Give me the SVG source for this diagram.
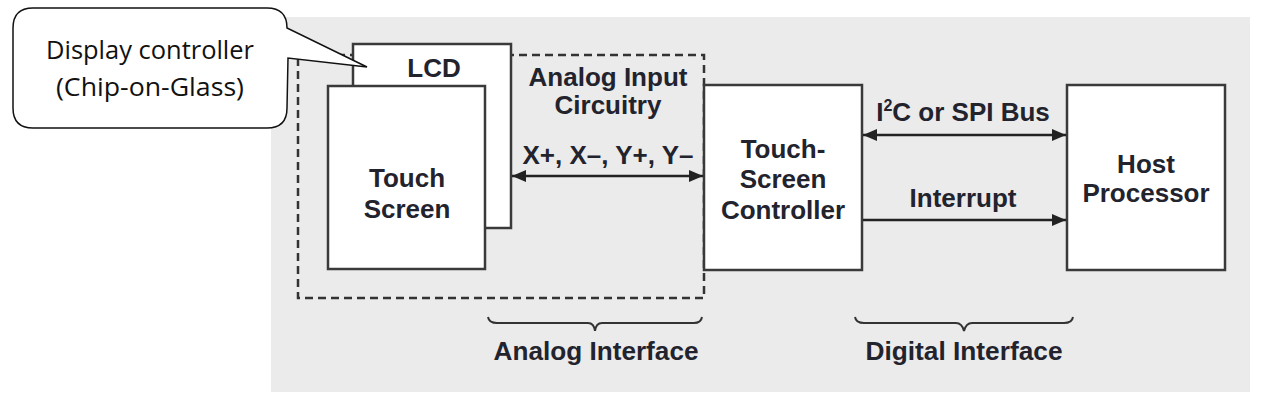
<svg xmlns="http://www.w3.org/2000/svg" width="1267" height="405" viewBox="0 0 1267 405">
<style>
.box{fill:#fff;stroke:#3a3a3a;stroke-width:2.5}
.lbl{font-family:"Liberation Sans",Arial,sans-serif;font-weight:bold;font-size:26px;fill:#23232e;text-anchor:middle}
.ln{stroke:#222;stroke-width:2.5;fill:none}
.brace{stroke:#333;stroke-width:2;fill:none}
.co{font-family:"Open Sans","Liberation Sans",Arial,sans-serif;font-size:25px;fill:#111;text-anchor:middle}
</style>
<defs>
<marker id="ah" viewBox="0 0 14 12" refX="14" refY="6" markerWidth="14" markerHeight="12" markerUnits="userSpaceOnUse" orient="auto-start-reverse">
<path d="M0,0 L14,6 L0,12 Z" fill="#222"/>
</marker>
</defs>
<rect x="271" y="17" width="979" height="375" fill="#ebebeb"/>
<g id="analog-circuitry">
<rect x="298" y="55" width="406" height="243" fill="none" stroke="#333" stroke-width="2.5" stroke-dasharray="8,5"/>
<text class="lbl" x="608" y="86">Analog Input</text>
<text class="lbl" x="608" y="114">Circuitry</text>
</g>
<g id="lcd">
<rect class="box" x="353" y="44" width="158" height="184"/>
<text class="lbl" x="434" y="77">LCD</text>
</g>
<g id="touch-screen">
<rect class="box" x="328" y="86" width="157" height="183"/>
<text class="lbl" x="407" y="187">Touch</text>
<text class="lbl" x="407" y="218">Screen</text>
</g>
<g id="tsc">
<rect class="box" x="704" y="85" width="158" height="185"/>
<text class="lbl" x="783" y="158">Touch-</text>
<text class="lbl" x="783" y="188">Screen</text>
<text class="lbl" x="783" y="219">Controller</text>
</g>
<g id="host">
<rect class="box" x="1067" y="85" width="158" height="185"/>
<text class="lbl" x="1146" y="173">Host</text>
<text class="lbl" x="1146" y="202">Processor</text>
</g>
<g id="connectors">
<line class="ln" x1="512" y1="176" x2="703" y2="176" marker-start="url(#ah)" marker-end="url(#ah)"/>
<text class="lbl" x="608" y="164">X+, X–, Y+, Y–</text>
<line class="ln" x1="863" y1="135" x2="1066" y2="135" marker-start="url(#ah)" marker-end="url(#ah)"/>
<text class="lbl" x="963" y="121">I<tspan dy="-10" font-size="16">2</tspan><tspan dy="10">C or SPI Bus</tspan></text>
<line class="ln" x1="863" y1="220" x2="1066" y2="220" marker-end="url(#ah)"/>
<text class="lbl" x="963" y="207">Interrupt</text>
</g>
<g id="analog-interface">
<path class="brace" d="M488,317 Q489,323 497,323 L588,323 Q594,323 595,331 Q596,323 602,323 L694,323 Q701,323 702,317"/>
<text class="lbl" x="596" y="360" font-size="27" textLength="205" lengthAdjust="spacingAndGlyphs">Analog Interface</text>
</g>
<g id="digital-interface">
<path class="brace" d="M855,317 Q856,323 864,323 L956,323 Q962,323 964,331 Q966,323 972,323 L1064,323 Q1072,323 1073,317"/>
<text class="lbl" x="964" y="360" font-size="27" textLength="197" lengthAdjust="spacingAndGlyphs">Digital Interface</text>
</g>
<g id="callout">
<path d="M33,8 L267,8 Q287,8 287,28 L367,67 L288,58 L287,108 Q287,128 267,128 L33,128 Q13,128 13,108 L13,28 Q13,8 33,8 Z" fill="#fff" stroke="#111" stroke-width="1.5"/>
<text class="co" x="150" y="59" textLength="208" lengthAdjust="spacingAndGlyphs">Display controller</text>
<text class="co" x="150" y="96" textLength="188" lengthAdjust="spacingAndGlyphs">(Chip-on-Glass)</text>
</g>
</svg>
